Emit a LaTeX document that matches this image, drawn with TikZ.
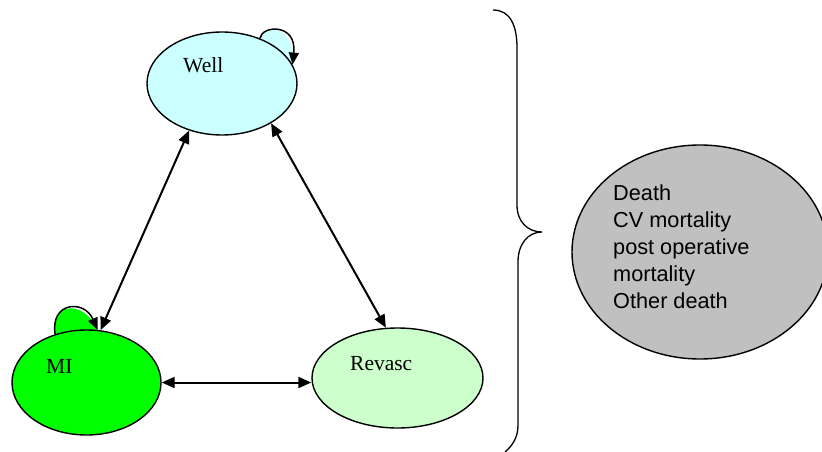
\documentclass[tikz,border=0pt]{standalone}
\usepackage{fontspec}
\setmainfont{Liberation Serif}
\newfontfamily\labelsans{Liberation Sans}
\usetikzlibrary{shapes.geometric,arrows.meta,backgrounds}
\definecolor{wellfill}{HTML}{CCFFFF}
\definecolor{mifill}{HTML}{00FF00}
\definecolor{revfill}{HTML}{CCFFCC}
\definecolor{deathfill}{HTML}{C0C0C0}
\tikzset{
  state/.style={ellipse, draw=black, line width=1.4pt, inner sep=0pt},
  statetext/.style={anchor=base west, inner sep=0pt, font=\fontsize{21.5}{26}\selectfont},
  trans/.style={line width=2pt, {Triangle[length=13pt,width=11pt]}-{Triangle[length=13pt,width=11pt]}},
  loopline/.style={line width=1.5pt, -{Triangle[length=12pt,width=10pt]}},
}
\begin{document}
\begin{tikzpicture}[x=1pt,y=-1pt]
\useasboundingbox (0,0) rectangle (822,452);

% states
\node[state, fill=wellfill, minimum width=150pt, minimum height=103pt] (well) at (222,83.5) {};
\node[state, fill=mifill, minimum width=149pt, minimum height=105pt] (mi) at (86.5,382.5) {};
\node[state, fill=revfill, minimum width=171pt, minimum height=100pt] (revasc) at (397.5,378) {};
\node[state, fill=deathfill, minimum width=256pt, minimum height=214pt] (death) at (700,252) {};

% state names
\node[statetext] (wellT) at (183,73) {Well};
\node[statetext] (miT) at (46,373) {MI};
\node[statetext] (revT) at (350,370) {Revasc};
\node[anchor=north west, inner sep=0pt, align=left,
      font={\labelsans\fontsize{21.7}{27}\selectfont}] (deathT) at (613,184.6)
  {Death\\CV mortality\\post operative\\mortality\\Other death};

% self loops: filled lobes behind the states, outlines on top
\begin{scope}[on background layer]
  \fill[wellfill] (well.50.7) .. controls (262,25) and (297,23) .. (well.15.9) -- cycle;
  \fill[mifill] (mi.123.3) .. controls (50,302) and (84,299) .. (mi.78) -- cycle;
\end{scope}
\draw[loopline] (well.50.7) .. controls (262,25) and (297,23) .. (well.15.9);
\draw[loopline] (mi.123.3) .. controls (50,302) and (84,299) .. (mi.78);

% transitions
\draw[trans] (well.235.8) -- (mi.75);
\draw[trans] (well.321.4) -- (revasc.103.8);
\draw[trans] (mi.east) -- (mi.east -| revasc.west);

% brace grouping the states
\draw[line width=1.3pt] (493,10) .. controls (510,10) and (517,25) .. (517,48)
  -- (517,205) .. controls (517,222) and (528,232) .. (542,232)
  .. controls (528,232) and (518,244) .. (518,262)
  -- (518,425) .. controls (518,438) and (512,446) .. (505,452);
\end{tikzpicture}
\end{document}
